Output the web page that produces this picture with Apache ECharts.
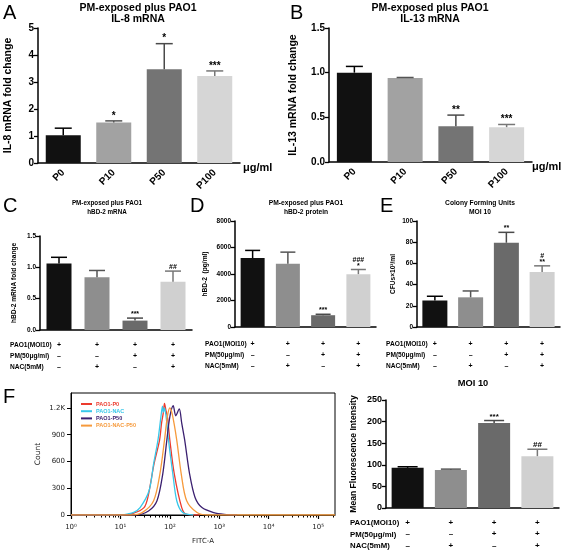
<!DOCTYPE html>
<html><head><meta charset="utf-8">
<script src="https://cdn.jsdelivr.net/npm/echarts@6/dist/echarts.min.js"></script>
<style>html,body{margin:0;padding:0;background:#fff}#c{width:567px;height:553px}</style>
</head><body><div id="c"></div><script>
// ---------- data ----------
const doseCats = ['P0', 'P10', 'P50', 'P100'];
const il8Mean = [1.03, 1.50, 3.47, 3.22];
const il8Sem  = [0.26, 0.06, 0.95, 0.19];
const il8Sig  = ['', '*', '*', '***'];
const il13Mean = [1.00, 0.94, 0.40, 0.39];
const il13Sem  = [0.07, 0.006, 0.125, 0.03];
const il13Sig  = ['', '', '**', '***'];
const hbdMrnaMean = [1.06, 0.84, 0.15, 0.77];
const hbdMrnaSem  = [0.10, 0.11, 0.04, 0.17];
const hbdMrnaSig  = ['', '', '***', '##'];
const hbdProtMean = [5200, 4770, 890, 3990];
const hbdProtSem  = [580, 880, 70, 350];
const hbdProtSig  = ['', '', '***', '###\n*'];
const cfuMean = [25, 28, 79.5, 52];
const cfuSem  = [4, 6, 9.8, 5.7];
const cfuSig  = ['', '', '**', '#\n**'];
const mfiMean = [93, 88, 197, 120];
const mfiSem  = [2.5, 2, 5.5, 16];
const mfiSig  = ['', '', '***', '##'];
const rowLabels = ['PAO1(MOI10)', 'PM(50\u03bcg/ml)', 'NAC(5mM)'];
const pao1Row = ['+', '+', '+', '+'];
const pmRow   = ['\u2013', '\u2013', '+', '+'];
const nacRow  = ['\u2013', '+', '\u2013', '+'];
const flowNames = ['PAO1-P0', 'PAO1-NAC', 'PAO1-P50', 'PAO1-NAC-P50'];
const redFitc  = [1, 10, 18, 30, 36, 48, 62, 68, 74, 78, 83, 90, 100, 123, 174, 219, 400];
const redCount = [0, 0, 19, 83, 200, 575, 840, 1030, 1150, 1250, 1180, 1090, 840, 460, 83, 8, 0];
const cyanFitc  = [1, 10, 13.5, 18.6, 25, 38, 47, 57.5, 66, 71, 74, 78, 85, 94, 115, 138, 182, 300];
const cyanCount = [0, 0, 10, 30, 83, 272, 575, 840, 1100, 1220, 1150, 1200, 1080, 840, 462, 160, 27, 0];
const purpleFitc  = [1, 20, 37, 55, 72, 87, 100, 117, 132, 155, 174, 200, 251, 324, 447, 776, 1260, 2300];
const purpleCount = [0, 0, 45, 160, 462, 840, 1100, 1225, 1113, 1190, 1030, 840, 462, 197, 83, 27, 8, 0];
const orangeFitc  = [1, 16, 28, 47, 63, 78, 89, 100, 112, 138, 170, 219, 355, 560, 220000];
const orangeCount = [0, 0, 30, 160, 462, 840, 1100, 1200, 1130, 840, 462, 160, 27, 0, 0];
const flowXExps = [0, 1, 2, 3, 4, 5];
const flowYTicks = [0, 300, 600, 900, 1200];

// ---------- helpers ----------
const FF = '"Liberation Sans", Arial, sans-serif';
const sup = ['\u2070', '\u00b9', '\u00b2', '\u00b3', '\u2074', '\u2075'];
const condCats = pao1Row.map((v, i) => v + '\n' + pmRow[i] + '\n' + nacRow[i]);
const barColors = ['#111111', '#a2a2a2', '#747474', '#d6d6d6'];
const barColors2 = ['#111111', '#8e8e8e', '#6a6a6a', '#d0d0d0'];
const errColors = ['#000000', '#555555', '#4a4a4a', '#777777'];

const grids = [], xAxes = [], yAxes = [], series = [];

function panel(o) {
  const gi = grids.length, xi = xAxes.length, yi = yAxes.length;
  grids.push(o.grid);
  xAxes.push({
    type: 'category', gridIndex: gi, data: o.cats, position: 'bottom',
    axisLine: {lineStyle: {color: '#000', width: 1.5}},
    axisTick: {alignWithLabel: true, length: 4, lineStyle: {color: '#000', width: 1.3}},
    axisLabel: Object.assign({interval: 0, color: '#000', fontFamily: FF, fontWeight: 'bold'}, o.xLabel)
  });
  yAxes.push({
    type: 'value', gridIndex: gi, min: o.min, max: o.max, interval: o.interval,
    name: o.name, nameLocation: 'middle', nameGap: o.nameGap,
    nameTextStyle: {color: '#000', fontFamily: FF, fontWeight: 'bold', fontSize: o.nameSize},
    axisLine: {show: true, lineStyle: {color: '#000', width: 1.5}},
    axisTick: {show: true, length: 4, lineStyle: {color: '#000', width: 1.3}},
    splitLine: {show: false},
    axisLabel: {color: '#000', fontFamily: FF, fontWeight: 'bold', fontSize: o.tickSize, margin: 4,
      formatter: o.fmt || (v => String(v))}
  });
  series.push({
    type: 'bar', xAxisIndex: xi, yAxisIndex: yi, barWidth: o.barWidth, silent: true,
    data: o.means.map((v, i) => ({value: v, itemStyle: {color: o.colors[i]}}))
  });
  const sigs = o.sigs, cap = o.cap, sigFont = 'bold ' + o.sigSize + 'px ' + FF;
  series.push({
    type: 'custom', xAxisIndex: xi, yAxisIndex: yi, z: 5, silent: true,
    data: o.means.map((m, i) => [i, m, o.sems[i]]),
    renderItem: (params, api) => {
      const i = params.dataIndex;
      const c = api.value(0), m = api.value(1), s = api.value(2);
      const b = api.coord([c, m]), t = api.coord([c, m + s]);
      const st = {stroke: errColors[i], lineWidth: 1.5};
      const ch = [
        {type: 'line', shape: {x1: b[0], y1: b[1], x2: t[0], y2: t[1]}, style: st},
        {type: 'line', shape: {x1: t[0] - cap, y1: t[1], x2: t[0] + cap, y2: t[1]}, style: st}
      ];
      if (sigs[i]) ch.push({type: 'text', style: {text: sigs[i], x: t[0], y: t[1] - 1, font: sigFont,
        textAlign: 'center', textVerticalAlign: 'bottom', align: 'center', verticalAlign: 'bottom',
        lineHeight: o.sigSize * 0.8, fill: '#000'}});
      return {type: 'group', children: ch};
    }
  });
}

const rotLabel = {rotate: 45, fontSize: 10, margin: 8};
panel({grid: {left: 38, top: 28, width: 202, height: 135}, cats: doseCats, xLabel: rotLabel,
  min: 0, max: 5, interval: 1, name: 'IL-8 mRNA fold change', nameGap: 24, nameSize: 10.5, tickSize: 10,
  means: il8Mean, sems: il8Sem, sigs: il8Sig, colors: barColors, barWidth: 35, cap: 8.5, sigSize: 10});
panel({grid: {left: 329, top: 28, width: 203, height: 134}, cats: doseCats, xLabel: rotLabel,
  min: 0, max: 1.5, interval: 0.5, name: 'IL-13 mRNA fold change', nameGap: 30, nameSize: 10.5, tickSize: 10,
  fmt: v => v.toFixed(1),
  means: il13Mean, sems: il13Sem, sigs: il13Sig, colors: barColors, barWidth: 35, cap: 8.5, sigSize: 10});
const condLabelC = {fontSize: 7, lineHeight: 11, margin: 9.5};
panel({grid: {left: 40, top: 236, width: 152, height: 94}, cats: condCats, xLabel: condLabelC,
  min: 0, max: 1.5, interval: 0.5, name: 'hBD-2 mRNA fold change', nameGap: 22, nameSize: 6.6, tickSize: 6.5,
  fmt: v => v.toFixed(1),
  means: hbdMrnaMean, sems: hbdMrnaSem, sigs: hbdMrnaSig, colors: barColors2, barWidth: 25, cap: 8, sigSize: 7});
const condLabelD = {fontSize: 7, lineHeight: 11, margin: 11.5};
panel({grid: {left: 235, top: 221, width: 141, height: 106}, cats: condCats, xLabel: condLabelD,
  min: 0, max: 8000, interval: 2000, name: 'hBD-2  (pg/ml)', nameGap: 26, nameSize: 6.6, tickSize: 6.5,
  means: hbdProtMean, sems: hbdProtSem, sigs: hbdProtSig, colors: barColors2, barWidth: 24, cap: 7.5, sigSize: 7});
panel({grid: {left: 417, top: 221, width: 143, height: 106}, cats: condCats, xLabel: condLabelD,
  min: 0, max: 100, interval: 20, name: 'CFUs\u00d710\u00b3/ml', nameGap: 20, nameSize: 6.6, tickSize: 6.5,
  means: cfuMean, sems: cfuSem, sigs: cfuSig, colors: barColors2, barWidth: 25, cap: 8, sigSize: 7});

// ---------- flow cytometry histogram ----------
const flowGrid = grids.length;
grids.push({left: 71, top: 393, width: 264, height: 122, show: true, borderColor: '#000', borderWidth: 1});
const logMax = Math.log10(220000);
const flowXLog = xAxes.length;
xAxes.push({type: 'log', logBase: 10, gridIndex: flowGrid, min: 1, max: 220000, show: false, position: 'bottom'});
xAxes.push({type: 'value', gridIndex: flowGrid, min: 0, max: logMax, position: 'bottom',
  name: 'FITC-A', nameLocation: 'middle', nameGap: 23,
  nameTextStyle: {color: '#222', fontFamily: '"DejaVu Sans", sans-serif', fontSize: 7},
  axisLine: {show: true, lineStyle: {color: '#000', width: 1}},
  axisTick: {show: true, length: 4, customValues: flowXExps, lineStyle: {color: '#000', width: 1.2}},
  axisLabel: {customValues: flowXExps, formatter: v => '10' + sup[Math.round(v)],
    fontSize: 7, color: '#222', fontFamily: '"DejaVu Sans", sans-serif', margin: 9},
  splitLine: {show: false}});
const minorVals = [];
flowXExps.forEach(e => { for (let m = 2; m <= 9; m++) { const v = e + Math.log10(m); if (v < logMax) minorVals.push(v); } });
xAxes.push({type: 'value', gridIndex: flowGrid, min: 0, max: logMax, position: 'bottom',
  axisLine: {show: false}, axisLabel: {show: false}, splitLine: {show: false},
  axisTick: {show: true, length: 2.5, customValues: minorVals, lineStyle: {color: '#000', width: 1}}});
const flowY = yAxes.length;
yAxes.push({type: 'value', gridIndex: flowGrid, min: 0, max: 1368, position: 'left',
  name: 'Count', nameLocation: 'middle', nameGap: 29,
  nameTextStyle: {color: '#222', fontFamily: '"DejaVu Sans", sans-serif', fontSize: 7.5},
  axisLine: {show: true, lineStyle: {color: '#000', width: 1}},
  axisTick: {show: true, length: 4, customValues: flowYTicks, lineStyle: {color: '#000'}},
  axisLabel: {customValues: flowYTicks, fontSize: 7, color: '#222', fontFamily: '"DejaVu Sans", sans-serif', margin: 6,
    formatter: v => v >= 1000 ? (v / 1000) + 'K' : String(v)},
  splitLine: {show: false}});
const flowColors = ['#ec3b2e', '#38c8ea', '#3b2070', '#f69a3c'];
const flowData = [[redFitc, redCount], [cyanFitc, cyanCount], [purpleFitc, purpleCount], [orangeFitc, orangeCount]];
flowData.forEach((d, k) => {
  series.push({type: 'line', name: flowNames[k], xAxisIndex: flowXLog, yAxisIndex: flowY,
    data: d[0].map((x, i) => [x, d[1][i]]), symbol: 'none', smooth: 0.3, silent: true,
    lineStyle: {color: flowColors[k], width: 1.3}, itemStyle: {color: flowColors[k]}, z: 3 + k});
});

// ---------- MFI bar ----------
panel({grid: {left: 386, top: 400, width: 173, height: 108}, cats: condCats,
  xLabel: {fontSize: 8, lineHeight: 11.5, margin: 9},
  min: 0, max: 250, interval: 50, name: 'Mean Fluorescence Intensity', nameGap: 28, nameSize: 8.6, tickSize: 9,
  means: mfiMean, sems: mfiSem, sigs: mfiSig, colors: barColors2, barWidth: 32, cap: 10, sigSize: 8});

// ---------- texts ----------
function T(x, y, text, font, align) {
  return {type: 'text', x: x, y: y, silent: true,
    style: {text: text, font: font, fill: '#000', textAlign: align || 'left', textVerticalAlign: 'middle'}};
}
const gfx = [];
const letterFont = '20px ' + FF;
[['A', 3, 13], ['B', 290, 13], ['C', 3, 206], ['D', 190, 206], ['E', 380, 206], ['F', 3, 397]]
  .forEach(l => gfx.push(T(l[1], l[2], l[0], letterFont)));
const tA = 'bold 10.5px ' + FF;
gfx.push(T(138, 8.5, 'PM-exposed plus PAO1', tA, 'center'), T(138, 19, 'IL-8 mRNA', tA, 'center'));
gfx.push(T(430, 8.5, 'PM-exposed plus PAO1', tA, 'center'), T(430, 19, 'IL-13 mRNA', tA, 'center'));
const tC = 'bold 6.3px ' + FF;
gfx.push(T(107, 203.5, 'PM-exposed plus PAO1', tC, 'center'), T(107, 212, 'hBD-2 mRNA', tC, 'center'));
const tD = 'bold 6.7px ' + FF;
gfx.push(T(306, 203.5, 'PM-exposed plus PAO1', tD, 'center'), T(306, 212.5, 'hBD-2 protein', tD, 'center'));
gfx.push(T(480, 203.5, 'Colony Forming Units', tD, 'center'), T(480, 212.5, 'MOI 10', tD, 'center'));
gfx.push(T(473, 383, 'MOI 10', 'bold 9.3px ' + FF, 'center'));
gfx.push(T(243, 168, '\u03bcg/ml', 'bold 11px ' + FF), T(532, 167, '\u03bcg/ml', 'bold 11px ' + FF));
const rowFont = 'bold 6.6px ' + FF;
[[10, [345, 356, 367]], [205, [344, 355, 366]], [386, [344, 355, 366]]].forEach(p =>
  rowLabels.forEach((r, i) => gfx.push(T(p[0], p[1][i], r, rowFont))));
rowLabels.forEach((r, i) => gfx.push(T(350, [523, 534.5, 546][i], r, 'bold 7.8px ' + FF)));

const chart = echarts.init(document.getElementById('c'), null, {renderer: 'canvas'});
chart.setOption({
  animation: false,
  backgroundColor: '#fff',
  grid: grids, xAxis: xAxes, yAxis: yAxes, series: series,
  legend: {orient: 'vertical', left: 76, top: 396, itemWidth: 11, itemHeight: 2, itemGap: 1.2, icon: 'rect',
    selectedMode: false,
    textStyle: {fontSize: 5.5, fontWeight: 'bold', fontFamily: FF, padding: [0, 0, 0, -1]},
    data: flowNames.map((n, i) => ({name: n, textStyle: {color: flowColors[i]}}))},
  graphic: gfx
});
</script></body></html>
